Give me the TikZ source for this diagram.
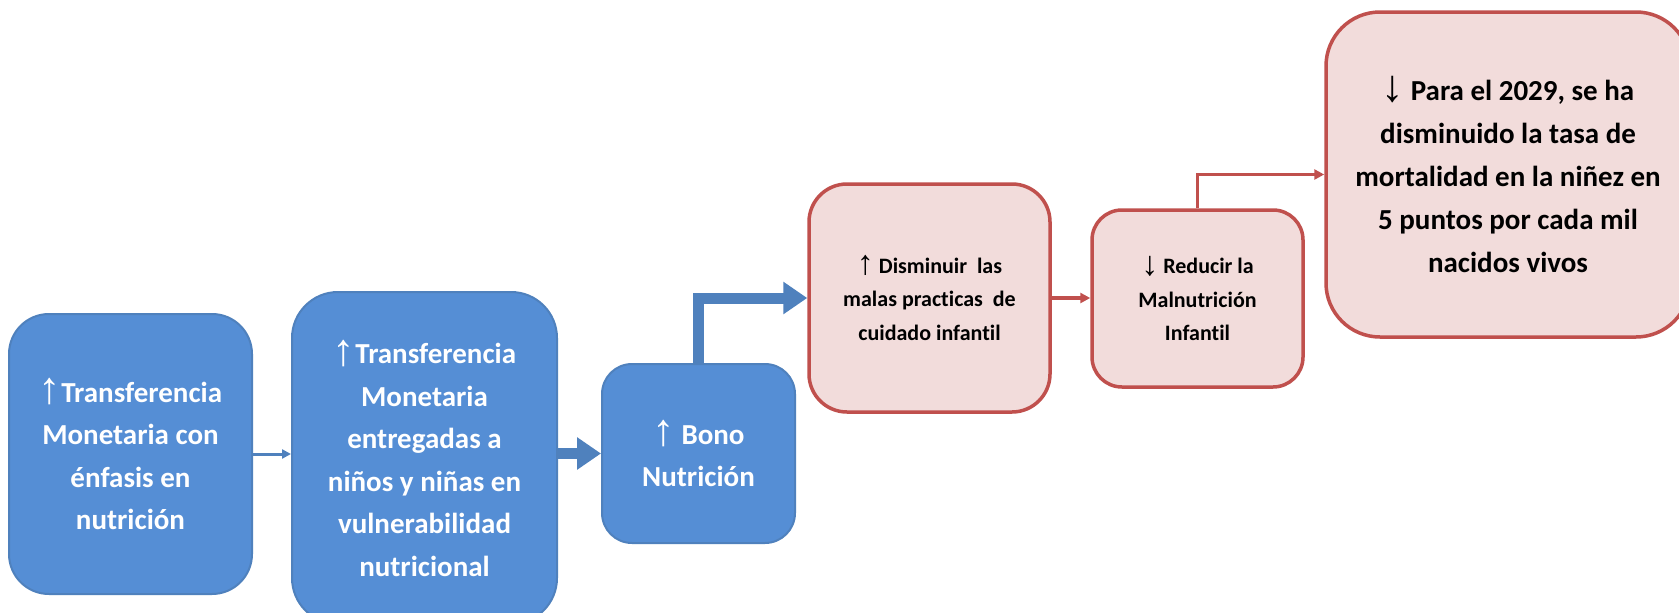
\documentclass[tikz,border=0pt]{standalone}
\usepackage{fontspec}
\setmainfont{Carlito}[Ligatures=NoCommon]
\newfontfamily\arrowfont{Liberation Sans}
\usetikzlibrary{arrows.meta}
\definecolor{bluefill}{HTML}{558ED5}
\definecolor{blueline}{HTML}{4F81BD}
\definecolor{pinkfill}{HTML}{F2DCDB}
\definecolor{redline}{HTML}{C0504D}
\newcommand\upar{\raisebox{-0.05em}{\scalebox{1.55}{\arrowfont ↑}}}
\newcommand\downar{\raisebox{-0.05em}{\scalebox{1.55}{\arrowfont ↓}}}
\tikzset{
  bluebox/.style={draw=blueline, line width=2pt, fill=bluefill, text=white, inner sep=0pt, align=center,
    font=\fontsize{29}{42.5}\selectfont\bfseries},
  pinkbox/.style={draw=redline, line width=3.5pt, fill=pinkfill, text=black, inner sep=0pt, align=center,
    font=\fontsize{29}{43}\selectfont\bfseries},
  smalltext/.style={font=\fontsize{22}{33.5}\selectfont\bfseries},
  thinblue/.style={draw=blueline, line width=3pt, -{Triangle[length=9pt,width=9pt]}},
  thickblue/.style={draw=blueline, line width=11pt, line join=miter, -{Triangle[length=24pt,width=31pt]}},
  thinred/.style={draw=redline, line width=3.5pt, line join=miter, -{Triangle[length=10pt,width=10pt]}},
}
\begin{document}
\begin{tikzpicture}[x=1pt,y=-1pt]
\useasboundingbox (0,0) rectangle (1679,613);
\fill[white] (0,0) rectangle (1679,613);
% blue boxes
\node[bluebox, minimum width=243pt, minimum height=280pt, rounded corners=40pt] (b1) at (130.5,454)
  {\upar Transferencia\\Monetaria con\\énfasis en\\nutrición};
\node[bluebox, minimum width=265pt, minimum height=332pt, rounded corners=46pt] (b2) at (424.5,458)
  {\upar Transferencia\\Monetaria\\entregadas a\\niños y niñas en\\vulnerabilidad\\nutricional};
\node[bluebox, minimum width=193pt, minimum height=179pt, rounded corners=30pt] (b3) at (698.5,453.5)
  {\upar\ Bono\\Nutrición};
% pink boxes
\node[pinkbox, smalltext, minimum width=241pt, minimum height=228pt, rounded corners=38pt] (b4) at (929.5,298)
  {\upar\ Disminuir\ \ las\\malas\ practicas\ \ de\\cuidado infantil};
\node[pinkbox, smalltext, minimum width=211pt, minimum height=177pt, rounded corners=30pt] (b5) at (1197.5,298.5)
  {\downar\ Reducir la\\Malnutrición\\Infantil};
\node[pinkbox, minimum width=364pt, minimum height=325pt, rounded corners=54pt] (b6) at (1508,174.5)
  {\downar\ Para el 2029, se ha\\disminuido la tasa de\\mortalidad en la niñez en\\5 puntos por cada mil\\nacidos vivos};
% connectors
\draw[thinblue] (b1.east) -- (b1.east -| b2.west);
\draw[thickblue] (b2.east |- b3.west) -- (b3.west);
\draw[thickblue] (b3.north) |- (b4.west);
\draw[thinred] (b4.east) -- (b4.east -| b5.west);
\draw[thinred] (b5.north) |- (b6.west);
\end{tikzpicture}
\end{document}
